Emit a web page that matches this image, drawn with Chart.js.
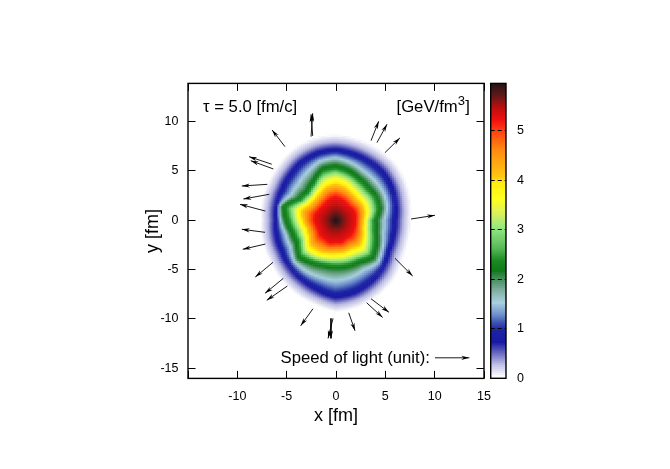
<!DOCTYPE html>
<html>
<head>
<meta charset="utf-8">
<title>Energy density</title>
<script src="https://cdn.jsdelivr.net/npm/chart.js@4"></script>
<style>
    body { margin: 0; background: #fff; }
    #wrap { position: relative; width: 670px; height: 469px; }
    canvas { position: absolute; top: 0; }
</style>
</head>
<body>
<div id="wrap">
    <canvas id="mapa" width="670" height="469" style="left:0"></canvas>
    <canvas id="barra" width="60" height="469" style="left:480px"></canvas>
</div>
<script>
// tick labels
const xTicks = [-15, -10, -5, 0, 5, 10, 15];
const xLabels = ['', '-10', '-5', '0', '5', '10', '15'];
const yTicks = [-15, -10, -5, 0, 5, 10];
const barTicks = [0, 1, 2, 3, 4, 5];

// contours: radius in fm every 15 degrees, counter-clockwise from +x
const angleStep = 15;
const peakEnergy = 5.96;
const levels = [0, 0.3, 0.8, 1.5, 2.0, 2.2, 2.45, 3.0, 3.8, 4.6, 5.2, 5.6];
const r00 = [7.6, 7.85, 8.15, 8.4, 8.45, 8.55, 8.7, 8.65, 8.45, 8.1, 7.85, 7.75, 7.6, 7.75, 7.85, 8.15, 8.45, 8.8, 9.3, 9.1, 8.75, 8.4, 7.8, 7.6];
const r03 = [6.8, 7.05, 7.35, 7.6, 7.65, 7.75, 7.9, 7.85, 7.65, 7.3, 7.05, 6.95, 6.8, 6.95, 7.05, 7.35, 7.65, 8.0, 8.5, 8.3, 7.95, 7.55, 6.95, 6.8];
const r08 = [5.98, 6.25, 6.55, 6.8, 6.85, 6.95, 7.1, 7.05, 6.85, 6.5, 6.25, 6.15, 6.0, 6.15, 6.25, 6.55, 6.85, 7.2, 7.7, 7.5, 7.15, 6.7, 6.15, 6.0];
const r15 = [4.9, 5.4, 5.6, 5.65, 5.75, 6.05, 6.35, 6.2, 5.7, 5.3, 5.2, 5.9, 5.6, 5.25, 5.3, 5.9, 5.95, 5.95, 6.1, 5.95, 5.75, 6.05, 5.5, 5.0];
const r20 = [4.4, 4.95, 5.1, 5.05, 5.2, 5.55, 5.8, 5.7, 4.9, 4.5, 4.65, 5.7, 5.3, 4.9, 4.85, 5.55, 5.3, 5.1, 5.1, 5.15, 5.2, 5.6, 5.1, 4.55];
const r22 = [4.1, 4.65, 4.8, 4.75, 4.9, 5.25, 5.5, 5.4, 4.6, 4.2, 4.35, 5.45, 5.0, 4.6, 4.55, 5.25, 5.0, 4.8, 4.8, 4.85, 4.9, 5.3, 4.8, 4.25];
const r245 = [3.75, 4.3, 4.45, 4.4, 4.55, 4.9, 5.15, 5.05, 4.25, 3.85, 4.0, 5.05, 4.6, 4.25, 4.2, 4.9, 4.65, 4.45, 4.45, 4.5, 4.55, 4.95, 4.4, 3.9];
const r30 = [3.4, 3.9, 4.05, 4.0, 4.15, 4.5, 4.8, 4.6, 3.95, 3.6, 3.75, 4.55, 4.2, 3.85, 3.85, 4.5, 4.35, 4.15, 4.1, 4.15, 4.2, 4.55, 3.95, 3.5];
const r38 = [2.95, 3.25, 3.35, 3.25, 3.4, 3.75, 3.95, 3.75, 3.35, 3.15, 3.3, 3.85, 3.5, 3.2, 3.3, 3.85, 3.8, 3.6, 3.5, 3.5, 3.5, 3.75, 3.35, 3.0];
const r46 = [2.45, 2.6, 2.7, 2.6, 2.7, 2.9, 3.05, 2.95, 2.65, 2.55, 2.6, 2.95, 2.85, 2.6, 2.6, 2.95, 2.9, 2.9, 2.8, 2.85, 2.75, 2.95, 2.75, 2.5];
const r52 = [2.05, 2.1, 2.1, 2.0, 2.1, 2.25, 2.4, 2.25, 2.05, 1.95, 2.0, 2.15, 2.15, 2.0, 2.0, 2.15, 2.15, 2.35, 2.2, 2.3, 2.1, 2.15, 2.1, 2.05];
const r56 = [0.8, 0.8, 0.8, 0.75, 0.8, 0.85, 0.9, 0.85, 0.8, 0.75, 0.75, 0.8, 0.8, 0.75, 0.75, 0.8, 0.8, 0.8, 0.8, 0.8, 0.8, 0.8, 0.8, 0.8];
const radii = [r00, r03, r08, r15, r20, r22, r245, r30, r38, r46, r52, r56];

// colour scale
const paletteValues = [0, 0.25, 0.5, 0.7, 0.95, 1.1, 1.25, 1.5, 1.75, 2.0, 2.15, 2.35, 2.6, 3.0, 3.3, 3.6, 3.9, 4.05, 4.6, 5.0, 5.2, 5.45, 5.7, 5.96];
const paletteColors = ['#ffffff', '#c0c0e6', '#6464bc', '#1a1aa6', '#1c24a2', '#3f55b2', '#6c8cc8', '#a8d0e0', '#80b0a0', '#3f8c55', '#0e7a18', '#1a8a22', '#58b858', '#90e880', '#d8f060', '#ffff20', '#ffee10', '#ffc810', '#ff8a10', '#ff3a10', '#f01010', '#b81010', '#5a1a1a', '#1f1414'];

// flow arrows, tail and head in fm
const tailX = [-5.17, -2.53, -2.36, -6.51, -6.35, -6.96, -6.76, -7.16, -7.19, -7.16, -6.38, -5.34, -4.93, -2.33, -0.3, -0.51, 1.29, 3.11, 3.55, 5.98, 3.55, 4.15, 4.96, 7.6, 10.03];
const tailY = [7.46, 8.48, 8.55, 5.68, 5.2, 3.64, 2.63, 0.93, -1.23, -2.42, -4.27, -5.9, -6.68, -8.98, -9.96, -9.96, -9.39, -8.38, -7.97, -3.87, 8.07, 7.87, 6.85, 0.12, -13.96];
const headX = [-6.48, -2.36, -2.53, -8.81, -8.64, -9.55, -9.39, -9.73, -9.55, -9.45, -8.18, -7.19, -7.02, -3.58, -0.81, -0.51, 1.93, 4.73, 5.37, 7.77, 4.33, 5.17, 6.48, 10.03, 13.51];
const headY = [9.16, 10.85, 10.75, 6.45, 6.04, 3.47, 2.15, 1.61, -0.92, -2.95, -5.77, -7.42, -8.13, -10.71, -11.99, -11.99, -11.22, -9.86, -9.35, -5.66, 10.04, 9.74, 8.35, 0.5, -13.96];

const fonte = 'Liberation Sans';

function hexRgb(h) {
    return [1, 3, 5].map(i => parseInt(h.substr(i, 2), 16));
}

function colorFor(v) {
    let i = 0;
    while (i < paletteValues.length - 2 && v > paletteValues[i + 1]) i++;
    const t = Math.min(1, (v - paletteValues[i]) / (paletteValues[i + 1] - paletteValues[i]));
    const a = hexRgb(paletteColors[i]), b = hexRgb(paletteColors[i + 1]);
    const c = a.map((n, k) => Math.round(n + (b[k] - n) * t));
    return `rgb(${c[0]},${c[1]},${c[2]})`;
}

function radiusAt(list, deg) {
    const n = list.length;
    const i = Math.floor(deg / angleStep) % n;
    const f = deg / angleStep - Math.floor(deg / angleStep);
    return list[i] * (1 - f) + list[(i + 1) % n] * f;
}

// energy at a cell, from the contour tables above
function energyAt(x, y) {
    const r = Math.hypot(x, y);
    let deg = Math.atan2(y, x) * 180 / Math.PI;
    if (deg < 0) deg += 360;
    let prevR = null, prevE = 0;
    for (let l = 0; l < levels.length; l++) {
        const rl = radiusAt(radii[l], deg);
        if (r >= rl) {
            if (prevR === null) return 0;
            return levels[l] + (prevE - levels[l]) * (r - rl) / (prevR - rl);
        }
        prevR = rl;
        prevE = levels[l];
    }
    return peakEnergy + (prevE - peakEnergy) * r / prevR;
}

const cellStep = 0.2;
const cells = [], cellColors = [];
for (let i = -50; i <= 50; i++) {
    for (let j = -50; j <= 50; j++) {
        const x = i * cellStep, y = j * cellStep;
        const e = energyAt(x, y);
        if (e > 0.005) {
            cells.push({ x: x, y: y });
            cellColors.push(colorFor(e));
        }
    }
}

const shafts = [];
tailX.forEach((tx, i) => {
    shafts.push({ x: tx, y: tailY[i] }, { x: headX[i], y: headY[i] }, { x: NaN, y: NaN });
});

const frame = {
    id: 'frame',
    afterDraw(chart) {
        const a = chart.chartArea, c = chart.ctx;
        c.save();
        c.strokeStyle = '#000';
        c.lineWidth = 1.4;
        c.strokeRect(a.left, a.top, a.right - a.left, a.bottom - a.top);
        c.restore();
    }
};

const arrowHeads = {
    id: 'arrowHeads',
    afterDatasetsDraw(chart) {
        const c = chart.ctx, sx = chart.scales.x, sy = chart.scales.y;
        c.save();
        c.fillStyle = '#000';
        tailX.forEach((tx, i) => {
            const px = sx.getPixelForValue(headX[i]), py = sy.getPixelForValue(headY[i]);
            const ang = Math.atan2(py - sy.getPixelForValue(tailY[i]), px - sx.getPixelForValue(tx));
            c.save();
            c.translate(px, py);
            c.rotate(ang);
            c.beginPath();
            c.moveTo(0, 0);
            c.lineTo(-8, -2.1);
            c.lineTo(-5.5, 0);
            c.lineTo(-8, 2.1);
            c.closePath();
            c.fill();
            c.restore();
        });
        c.restore();
    }
};

const labels = {
    id: 'labels',
    afterDraw(chart) {
        const c = chart.ctx;
        c.save();
        c.fillStyle = '#000';
        c.textBaseline = 'alphabetic';
        c.font = `16.7px "${fonte}"`;
        c.fillText('τ = 5.0 [fm/c]', 203, 111.5);
        c.fillText('[GeV/fm', 396.5, 112.3);
        const w = c.measureText('[GeV/fm').width;
        c.font = `13px "${fonte}"`;
        c.fillText('3', 396.5 + w, 104.5);
        c.font = `16.7px "${fonte}"`;
        c.fillText(']', 396.5 + w + 7.5, 112.3);
        c.fillText('Speed of light (unit):', 280.5, 363.3);
        c.restore();
    }
};

function tickAxis(values, extra) {
    return Object.assign({
        type: 'linear',
        afterBuildTicks(s) { s.ticks = values.map(v => ({ value: v })); },
        border: { display: false },
        grid: { drawOnChartArea: false, drawTicks: true, tickLength: -7.5, color: '#000', tickWidth: 1 }
    }, extra);
}

new Chart(document.getElementById('mapa'), {
    type: 'scatter',
    data: {
        datasets: [
            {
                data: shafts,
                showLine: true,
                spanGaps: false,
                pointRadius: 0,
                borderColor: '#000',
                borderWidth: 0.9,
                order: 1
            },
            {
                data: cells,
                pointStyle: 'rect',
                pointRadius: 1.8,
                pointBorderWidth: 0,
                pointBackgroundColor: cellColors,
                order: 2
            }
        ]
    },
    options: {
        responsive: false,
        animation: false,
        events: [],
        layout: { padding: { left: 142, right: 186, top: 83.4, bottom: 42 } },
        plugins: { legend: { display: false }, tooltip: { enabled: false } },
        scales: {
            x: tickAxis(xTicks, {
                min: -15, max: 15,
                afterFit(s) { s.height = 48.6; },
                ticks: {
                    autoSkip: false, maxRotation: 0, padding: 18.5, color: '#000',
                    font: { family: fonte, size: 12.5 },
                    callback(v) { return xLabels[xTicks.indexOf(v)]; }
                },
                title: { display: true, text: 'x [fm]', color: '#000', padding: 0, font: { family: fonte, size: 18 } }
            }),
            y: tickAxis(yTicks, {
                min: -16.05, max: 13.88,
                afterFit(s) { s.width = 46; },
                ticks: { autoSkip: false, padding: 17, color: '#000', font: { family: fonte, size: 12.5 } },
                title: { display: true, text: 'y [fm]', color: '#000', padding: 0, font: { family: fonte, size: 18 } }
            }),
            x2: tickAxis(xTicks, {
                min: -15, max: 15, position: 'top',
                afterFit(s) { s.height = 0; },
                ticks: { display: false }
            }),
            y2: tickAxis(yTicks, {
                min: -16.05, max: 13.88, position: 'right',
                afterFit(s) { s.width = 0; },
                ticks: { display: false }
            })
        }
    },
    plugins: [arrowHeads, frame, labels]
});

// colour bar
const bandStep = 0.04;
const bandSets = [];
for (let v = 0; v < peakEnergy; v += bandStep) {
    bandSets.push({
        data: [[v, v + bandStep * 1.5]],
        backgroundColor: colorFor(v + bandStep / 2),
        borderWidth: 0,
        barPercentage: 1,
        categoryPercentage: 1,
        grouped: false
    });
}

new Chart(document.getElementById('barra'), {
    type: 'bar',
    data: { labels: [''], datasets: bandSets },
    options: {
        responsive: false,
        animation: false,
        events: [],
        layout: { padding: { left: 10.7, right: 0, top: 83.4, bottom: 90.7 } },
        plugins: { legend: { display: false }, tooltip: { enabled: false } },
        scales: {
            x: { display: false },
            y: {
                position: 'right',
                min: 0, max: peakEnergy,
                afterBuildTicks(s) { s.ticks = barTicks.map(v => ({ value: v })); },
                afterFit(s) { s.width = 34; },
                border: { display: false, dash: [4, 3] },
                grid: { z: 1, color: '#000', drawTicks: false },
                ticks: { padding: 11, color: '#000', font: { family: fonte, size: 12.5 } }
            }
        }
    },
    plugins: [frame]
});
</script>
</body>
</html>
